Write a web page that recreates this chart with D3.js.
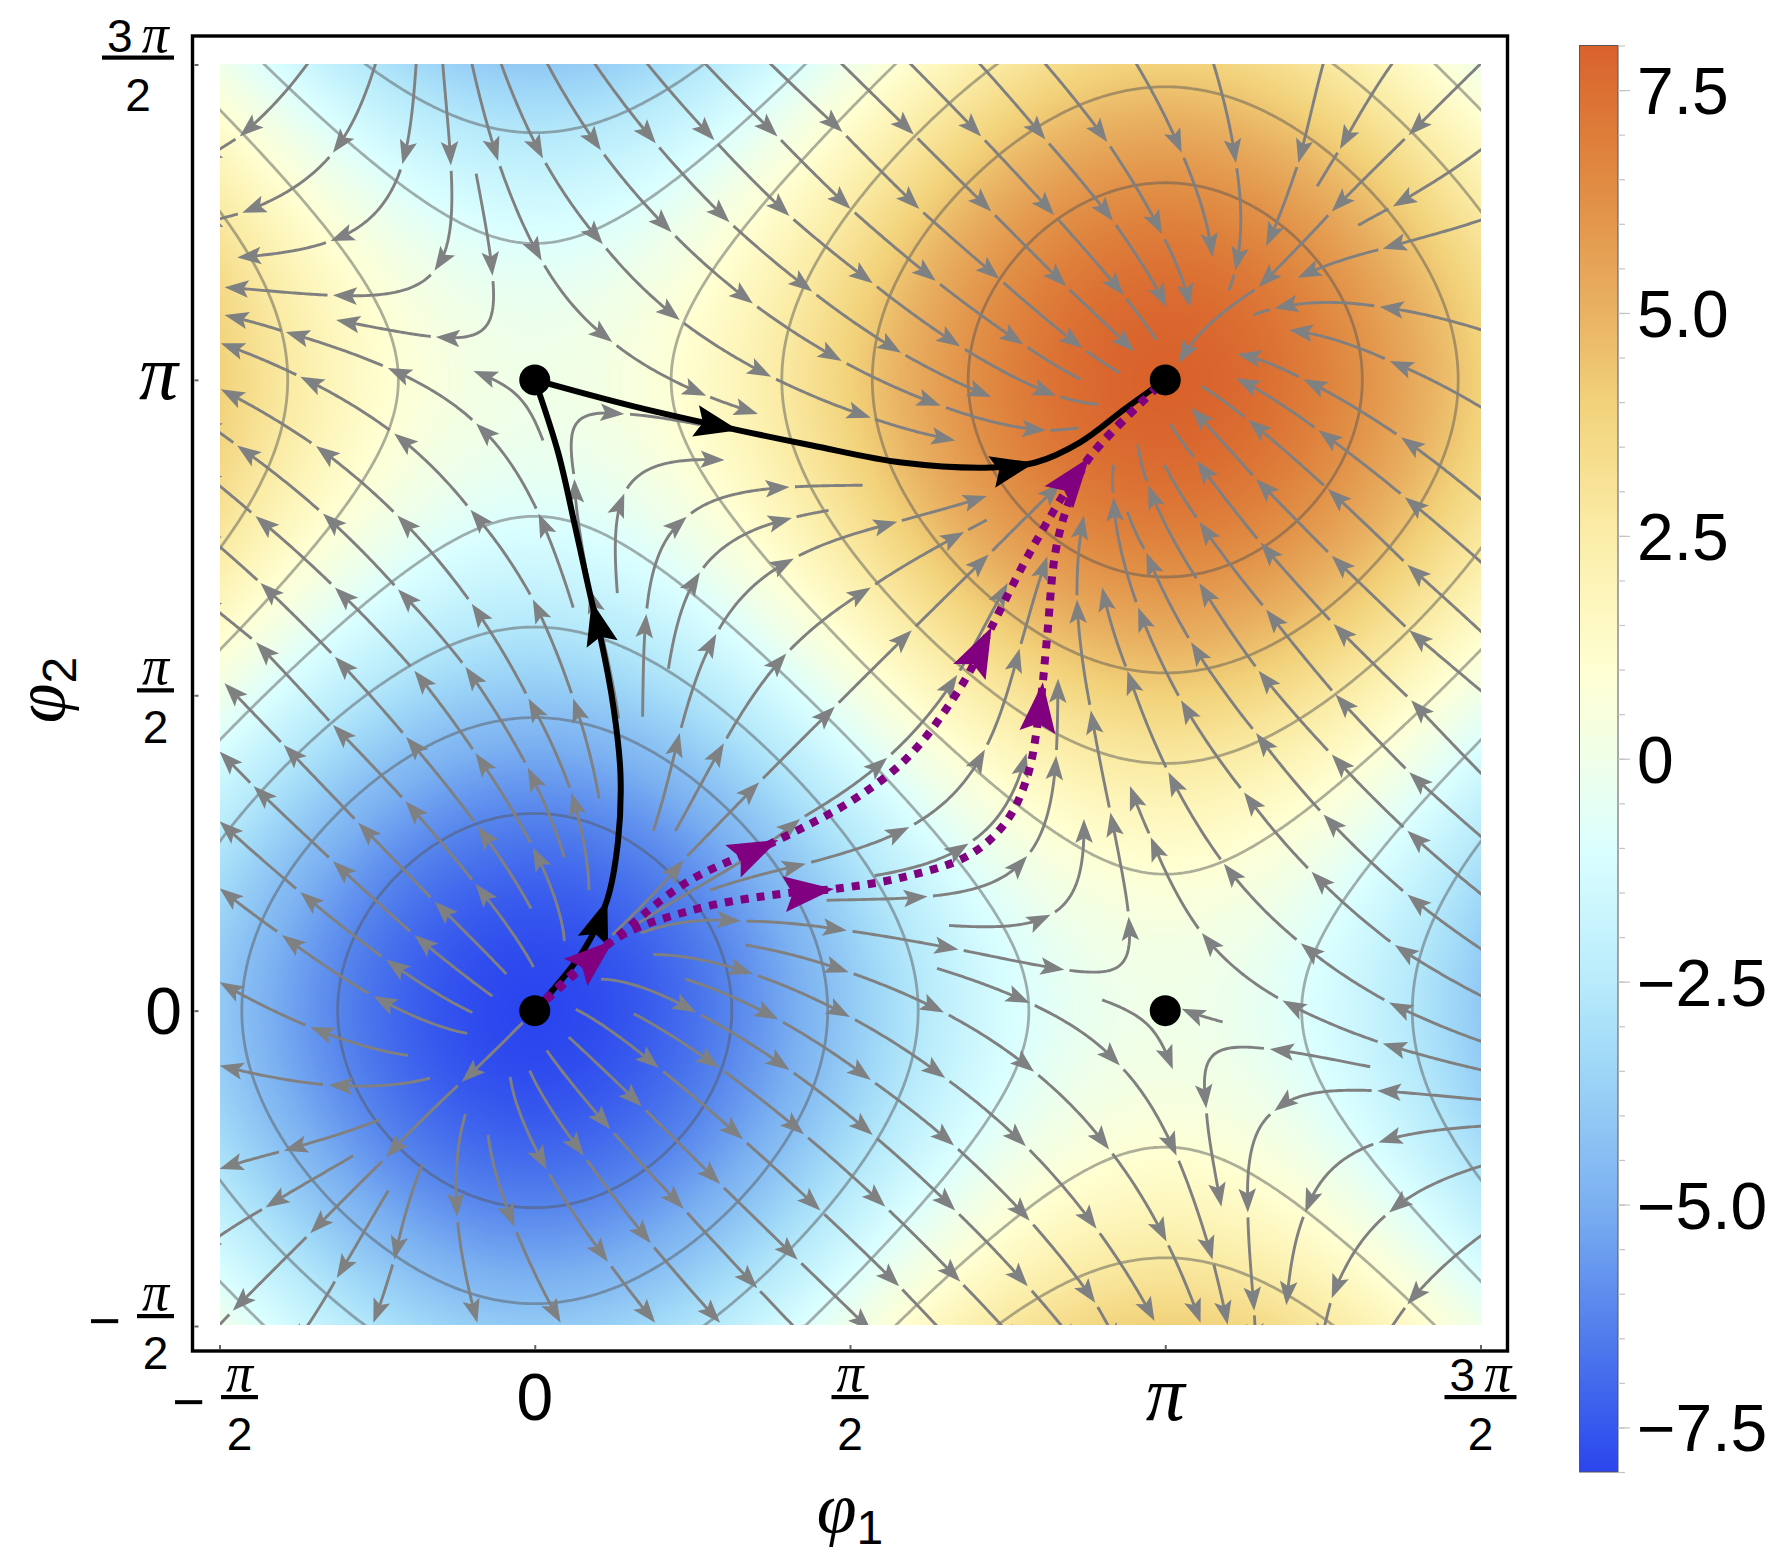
<!DOCTYPE html>
<html><head><meta charset="utf-8"><script src="https://cdn.jsdelivr.net/npm/d3@7"></script>
<style>html,body{margin:0;padding:0;background:#fff}svg{display:block}text{font-family:"Liberation Sans",Arial,sans-serif;fill:#000}.pi{font-family:"Liberation Serif",serif;font-style:italic}</style>
</head><body><svg id="c" width="1784" height="1558"></svg>
<script>
// All phase values are in thousandths of pi.
const phiTicks=[-500,0,500,1000,1500];
const colorTicks=[7.5,5,2.5,0,-2.5,-5,-7.5];
const colorMinor=d3.range(-8,8.01,0.5);
const colorStops=[-8,-6.5,-5,-3.5,-2.5,-1,0,1,2.5,4,5,6.5,8];
const colorValues=["#2A45EE","#4F7CEC","#7BB0F1","#9DD6F7","#B8EBFB","#DBFFFF","#F0FFE8","#FFFFD2","#FBEDA8","#F2D27A","#E9B263","#E08A42","#D9622B"];
const contourLevels=[-6.222,-4.444,-2.667,-0.889,0.889,2.667,4.444,6.222];
const fieldAmplitude=4, flowCoupling=0.5;
const fixedPoints=[[0,0],[0,1000],[1000,0],[1000,1000]];

const streamsUpperLeft=[
[[-359,1503],[-468,1386],[-534,1346]],
[[-252,1503],[-320,1360],[-464,1265],[-534,1247]],
[[-188,1503],[-210,1342],[-324,1220],[-472,1194]],
[[-146,1503],[-133,1340],[-159,1173],[-320,1134],[-492,1147]],
[[-93,1327],[-67,1165],[-157,1068],[-315,1095]],
[[-100,1503],[-58,1347],[11,1189],[123,1060],[272,975],[354,946]],
[[-54,1503],[13,1351],[108,1215],[230,1095],[375,1005],[533,940],[667,904]],
[[19,1503],[105,1364],[217,1234],[346,1121],[487,1030],[644,959],[811,920],[862,924,0]],
[[94,1503],[192,1375],[309,1250],[440,1140],[581,1043],[724,973]],
[[177,1503],[285,1380],[404,1260],[536,1153],[675,1053],[827,975],[894,961,0]],
[[269,1503],[385,1386],[501,1271],[636,1157],[775,1056],[866,1001,0]],
[[372,1503],[488,1393],[610,1271],[737,1160],[869,1050],[928,1011,0]],
[[485,1503],[601,1389],[724,1267],[843,1148],[951,1045]],
[[61,639],[6,788],[-93,931],[-233,1019],[-395,1076],[-492,1103]],
[[13,904],[-97,1014]],
[[131,662],[142,820],[301,873]],
[[133,463],[87,668],[63,843],[142,946],[262,929,0]]];

const streamsUpperRight=[
[[594,1503],[708,1386],[824,1261],[934,1134],[986,1063,0]],
[[704,1503],[810,1381],[917,1252],[1002,1115]],
[[808,1503],[908,1377],[995,1231],[1039,1115]],
[[953,1503],[1026,1360],[1075,1195]],
[[1076,1503],[1112,1344],[1111,1173],[1101,1142,0]],
[[1251,1503],[1211,1344],[1160,1212]],
[[1361,1503],[1277,1366],[1241,1307,0]],
[[1502,1503],[1386,1388],[1264,1267],[1148,1147],[1021,1026]],
[[1502,1366],[1361,1275],[1306,1245,0]],
[[1502,1254],[1345,1208],[1210,1162]],
[[1502,1079],[1340,1116],[1173,1113],[1140,1103,0]],
[[1502,956],[1356,1030],[1196,1079]],
[[1502,810],[1374,909],[1219,1001],[1114,1041]],
[[1502,710],[1380,814],[1243,920],[1112,1003]],
[[1502,600],[1384,707],[1258,827],[1131,937],[1058,990,0]]];

const streamsLowerRight=[
[[1502,506],[1387,603],[1264,721],[1144,843],[1041,956]],
[[1502,375],[1390,492],[1267,613],[1151,742],[1050,872],[1008,930,0]],
[[1502,275],[1387,378],[1270,501],[1160,636],[1054,775],[999,865,0]],
[[1502,184],[1384,285],[1264,406],[1148,539],[1054,678],[973,833],[957,898,0]],
[[1502,97],[1384,184],[1251,311],[1144,440],[1041,584],[970,726],[940,791,0]],
[[1502,23],[1364,104],[1232,220],[1125,346],[1025,492],[957,639],[918,814],[918,865,0]],
[[1502,-49],[1355,13],[1215,107],[1093,233],[1005,378],[940,539],[900,671]],
[[1502,-94],[1345,-52],[1186,16],[1058,123],[977,275],[944,356]],
[[1325,-89],[1166,-61],[1065,-155],[1089,-311]],
[[1502,-141],[1336,-127],[1173,-159],[1131,-320],[1141,-476],[1144,-534]],
[[1502,-183],[1338,-209],[1222,-320],[1192,-467]],
[[1502,-246],[1355,-320],[1264,-456],[1245,-534]],
[[1502,-356],[1384,-466],[1335,-540]],
[[900,17],[1012,-93]],
[[1091,-18],[1026,3]],
[[638,67],[785,12],[928,-87],[1018,-230],[1075,-395],[1099,-498]]];

const streamsCentre=[
[[168,123],[327,142],[495,127],[672,97],[840,65],[942,149],[913,314],[882,476],[860,652],[871,785]],
[[463,175],[623,181],[781,245],[827,404],[830,526]],
[[657,135],[818,152],[871,304]],
[[278,191],[430,233],[594,291],[714,414],[769,574],[813,720]],
[[539,214],[688,265],[780,408]],
[[165,139],[421,304],[559,401],[670,532],[750,678]],
[[188,285],[230,440],[288,597],[411,717],[575,775],[717,816]],
[[223,285],[300,424],[399,566],[533,671],[681,759],[717,778,0]],
[[123,120],[236,239],[356,362],[476,482],[598,603],[720,723],[834,836]],
[[171,466],[177,629],[241,783],[404,830],[520,833,0]],
[[212,542],[262,695],[408,781],[466,793,0]]];

const streamsLowerLeft=[
[[334,104],[498,61],[649,-3],[792,-97],[911,-220],[1002,-366],[1056,-495]],
[[188,89],[346,58],[500,-10],[651,-107],[779,-215],[891,-346],[983,-492]],
[[105,50],[256,-3],[404,-94],[536,-197],[667,-317],[782,-437],[863,-534]],
[[239,50],[386,-14],[533,-110],[665,-214],[785,-333],[889,-463],[928,-534]],
[[65,2],[197,-91],[330,-204],[453,-317],[578,-437],[675,-540]],
[[157,-5],[293,-91],[427,-196],[556,-311],[675,-430],[772,-534]],
[[54,-42],[170,-152],[294,-275],[417,-395],[534,-508]],
[[19,-63],[120,-188],[236,-314],[353,-440],[443,-534]],
[[-8,-95],[78,-230],[184,-369],[294,-495]],
[[-39,-105],[19,-252],[116,-398],[191,-495]],
[[-74,-197],[-32,-343],[41,-495]],
[[-110,-164],[-123,-327],[-91,-495]],
[[-178,-243],[-223,-395],[-256,-495]],
[[-232,-285],[-314,-424],[-385,-534]],
[[-19,-19],[-116,-113],[-236,-233],[-356,-353],[-479,-476],[-534,-534]],
[[-288,-230],[-427,-312],[-534,-382]],
[[-246,-173],[-398,-222],[-500,-251]],
[[-166,-107],[-327,-118],[-500,-87]],
[[-201,-71],[-356,-26],[-500,45]],
[[-107,-36],[-256,23],[-401,120],[-500,194]],
[[-99,-3],[-236,81],[-372,188],[-500,300]],
[[-67,23],[-191,120],[-320,237],[-446,356],[-500,411]],
[[-45,58],[-159,173],[-280,298],[-398,421],[-492,519]],
[[-2,69],[-94,201],[-205,332],[-320,453],[-442,584],[-534,658]],
[[-6,162],[-91,293],[-204,434],[-317,561],[-435,678],[-534,765]],
[[47,110],[-3,259],[-94,408],[-191,539],[-317,671],[-443,784],[-534,859]],
[[86,191],[58,346],[-10,495],[-100,645],[-218,785],[-347,895],[-498,985]],
[[47,243],[-11,385],[-110,545],[-217,668],[-336,788],[-472,896],[-534,940]],
[[102,336],[61,495],[-3,652],[-102,794],[-223,915],[-372,1005],[-498,1058]]];

const blackPathA=[[0,1000],[157,958],[324,920],[440,896],[582,869],[724,861],[794,869],[865,901],[936,954],[1000,1000]];
const blackPathAHeads=[[324,920],[794,869]];
const blackPathB=[[0,0],[79,98],[115,176],[132,268],[136,374],[125,480],[104,593],[90,650],[65,763],[37,885],[0,1000]];
const blackPathBHeads=[[115,176],[90,650]];
const purplePathA=[[0,0],[125,112],[242,204],[387,271],[511,338],[596,406],[681,522],[724,607],[794,742],[879,876],[1000,1000]];
const purplePathAHeads=[[125,112],[387,271],[724,607],[879,876]];
const purplePathB=[[0,0],[125,112],[256,161],[398,186],[476,193],[582,211],[688,246],[745,296],[780,367],[801,480],[812,586],[826,728],[847,806],[879,876],[1000,1000]];
const purplePathBHeads=[[476,193],[806,520]];

const svg=d3.select("#c");
const x=d3.scaleLinear().domain([-500,1500]).range([219.5,1480.5]);
const y=d3.scaleLinear().domain([-500,1500]).range([1326,64.5]);
const color=d3.scaleLinear().domain(colorStops).range(colorValues).interpolate(d3.interpolateRgb).clamp(true);
const barY=d3.scaleLinear().domain([-8,8]).range([1472,45.5]);
const rad=v=>v*Math.PI/1000;
const field=(a,b)=>-fieldAmplitude*(Math.cos(rad(a))+Math.cos(rad(b)));
function flow(a,b){
  const s1=Math.sin(rad(a)),s2=Math.sin(rad(b));
  let u=s1-flowCoupling*s2,v=s2-flowCoupling*s1;
  const n=Math.hypot(u,v)||1e-6;
  return [u/n,v/n];
}

// heat map
const hx0=Math.round(x(-500)),hx1=Math.round(x(1500)),hy0=Math.round(y(1500))-1,hy1=Math.round(y(-500))-1;
const cv=document.createElement("canvas");cv.width=hx1-hx0;cv.height=hy1-hy0;
const ctx=cv.getContext("2d");const im=ctx.createImageData(cv.width,cv.height);
for(let j=0;j<cv.height;j++)for(let i=0;i<cv.width;i++){
  const c=d3.rgb(color(field(x.invert(hx0+i+.5),y.invert(hy0+j+.5))));
  const k=(j*cv.width+i)*4;im.data[k]=c.r;im.data[k+1]=c.g;im.data[k+2]=c.b;im.data[k+3]=255;
}
ctx.putImageData(im,0,0);
svg.append("image").attr("x",hx0).attr("y",hy0).attr("width",cv.width).attr("height",cv.height).attr("href",cv.toDataURL());
svg.append("clipPath").attr("id","plot").append("rect").attr("x",hx0).attr("y",hy0).attr("width",cv.width).attr("height",cv.height);
const plot=svg.append("g").attr("clip-path","url(#plot)");

// contours
const nG=400,grid=new Float64Array(nG*nG);
const gA=d3.scaleLinear().domain([0,nG-1]).range([-510,1510]);
const gB=d3.scaleLinear().domain([0,nG-1]).range([1510,-510]);
for(let j=0;j<nG;j++)for(let i=0;i<nG;i++)grid[j*nG+i]=field(gA(i),gB(j));
const proj=d3.geoTransform({point(px,py){this.stream.point(x(gA(px-.5)),y(gB(py-.5)));}});
plot.append("g").selectAll("path").data(d3.contours().size([nG,nG]).thresholds(contourLevels)(grid)).join("path")
  .attr("d",d3.geoPath(proj)).attr("fill","none").attr("stroke","#555").attr("stroke-opacity",.48).attr("stroke-width",2.8);

// streamlines: pieces follow the flow between points
function march(p,q,sign){
  const step=2,d0=Math.hypot(p[0]-q[0],p[1]-q[1]);
  const pts=[[p[0],p[1]]];let best=d0,bi=0,c=[p[0],p[1]];
  const nMax=Math.ceil(d0*2.5/step);
  for(let i=1;i<=nMax;i++){
    const f=flow(c[0],c[1]);c=[c[0]+sign*step*f[0],c[1]+sign*step*f[1]];pts.push(c);
    const d=Math.hypot(c[0]-q[0],c[1]-q[1]);
    if(d<best){best=d;bi=i;} else if(d>best+12)break;
  }
  return pts.slice(0,Math.max(bi,1)+1);
}
function sample(pts,t){
  const f=t*(pts.length-1),i=Math.min(Math.floor(f),pts.length-2),w=f-i;
  return [pts[i][0]*(1-w)+pts[i+1][0]*w,pts[i][1]*(1-w)+pts[i+1][1]*w];
}
function piece(p,q){
  const fw=march(p,q,1),bw=march(q,p,-1),M=40,out=[];
  for(let i=0;i<=M;i++){
    const t=i/M,A=sample(fw,t),B=sample(bw,1-t);
    out.push([A[0]*(1-t)+B[0]*t,A[1]*(1-t)+B[1]*t]);
  }
  return out;
}
const line=d3.line().x(d=>x(d[0])).y(d=>y(d[1]));
const gStream=plot.append("g");
function head(g,tipX,tipY,ang,len,hw,notch,fill){
  const c=Math.cos(ang),s=Math.sin(ang);
  const P=(u,v)=>[tipX+u*c-v*s,tipY+u*s+v*c];
  g.append("path").attr("d","M"+[P(0,0),P(-len,hw),P(-len+notch,0),P(-len,-hw)].map(d=>d.join(",")).join("L")+"Z").attr("fill",fill);
}
[...streamsUpperLeft,...streamsUpperRight,...streamsLowerRight,...streamsCentre,...streamsLowerLeft].forEach(chain=>{
  for(let k=1;k<chain.length;k++){
    const p=chain[k-1],q=chain[k],hasHead=q.length<3;
    let pts=piece(p,q);
    const tip=[x(q[0]),y(q[1])];
    const last=pts[pts.length-5];
    const ang=Math.atan2(tip[1]-y(last[1]),tip[0]-x(last[0]));
    if(k>1){const s=[x(p[0]),y(p[1])];pts=pts.filter(d=>Math.hypot(x(d[0])-s[0],y(d[1])-s[1])>4);}
    if(hasHead)pts=pts.filter(d=>Math.hypot(x(d[0])-tip[0],y(d[1])-tip[1])>14);
    if(pts.length>1)gStream.append("path").attr("d",line(pts)).attr("fill","none").attr("stroke","#808080").attr("stroke-width",2.9);
    if(hasHead)head(gStream,tip[0],tip[1],ang,24,8.8,5,"#7f8082");
  }
});

// highlighted paths
const smooth=d3.line().x(d=>x(d[0])).y(d=>y(d[1])).curve(d3.curveCatmullRom.alpha(.5));
function pathWithHeads(data,heads,stroke,width,dash,hl,hw){
  const p=svg.append("path").attr("d",smooth(data)).attr("fill","none").attr("stroke",stroke).attr("stroke-width",width);
  if(dash)p.attr("stroke-dasharray",dash);
  const node=p.node(),L=node.getTotalLength();
  heads.forEach(h=>{
    const tx=x(h[0]),ty=y(h[1]);let bs=0,bd=1e9;
    for(let s=0;s<=L;s+=2){const q=node.getPointAtLength(s),d=Math.hypot(q.x-tx,q.y-ty);if(d<bd){bd=d;bs=s;}}
    const q0=node.getPointAtLength(Math.max(bs-18,0)),q1=node.getPointAtLength(Math.min(bs+6,L));
    const t=node.getPointAtLength(bs);
    head(svg,t.x,t.y,Math.atan2(q1.y-q0.y,q1.x-q0.x),hl,hw,hl*.17,stroke);
  });
}
pathWithHeads(blackPathA,blackPathAHeads,"#000",6,null,44,16);
pathWithHeads(blackPathB,blackPathBHeads,"#000",6,null,44,16);
pathWithHeads(purplePathB,purplePathBHeads,"#800080",8,"8,8",50,18);
pathWithHeads(purplePathA,purplePathAHeads,"#800080",8,"8,8",50,18);

svg.append("g").selectAll("circle").data(fixedPoints).join("circle")
  .attr("cx",d=>x(d[0])).attr("cy",d=>y(d[1])).attr("r",15.5).attr("fill","#000");

// frame and ticks
svg.append("rect").attr("x",192.5).attr("y",36).attr("width",1315).attr("height",1315).attr("fill","none").attr("stroke","#000").attr("stroke-width",3.4);
const ax=d3.axisBottom(x).tickValues(phiTicks).tickSize(-4).tickFormat("");
const ay=d3.axisLeft(y).tickValues(phiTicks).tickSize(-4).tickFormat("");
[svg.append("g").attr("transform","translate(0,1349)").call(ax),svg.append("g").attr("transform","translate(194.5,0)").call(ay)].forEach(g=>{
  g.select(".domain").remove();g.selectAll("line").attr("stroke","#666").attr("stroke-width",2);
});

// tick labels
function frac(num,cx,lineY,neg,w){
  svg.append("rect").attr("x",cx-w/2).attr("y",lineY-2).attr("width",w).attr("height",4.2).attr("fill","#000");
  const t=svg.append("text").attr("x",cx).attr("y",lineY-6).attr("text-anchor","middle");
  if(num){t.append("tspan").attr("font-size",46).text(num+"\u2009");}
  t.append("tspan").attr("class","pi").attr("font-size",54).text("\u03c0");
  svg.append("text").attr("x",cx).attr("y",lineY+53).attr("text-anchor","middle").attr("font-size",46).text("2");
  if(neg)svg.append("text").attr("x",cx-w/2-16).attr("y",lineY+24).attr("text-anchor","end").attr("font-size",56).text("\u2212");
}
frac("",x(-500)+20,1397,true,37);
svg.append("text").attr("x",x(0)).attr("y",1420).attr("text-anchor","middle").attr("font-size",66).text("0");
frac("",x(500),1397,false,37);
svg.append("text").attr("class","pi").attr("x",x(1000)).attr("y",1420).attr("text-anchor","middle").attr("font-size",78).text("\u03c0");
frac("3",x(1500),1397,false,72);
frac("",155.5,y(-500)-10,true,37);
svg.append("text").attr("x",182).attr("y",y(0)+23).attr("text-anchor","end").attr("font-size",66).text("0");
frac("",155.5,y(500)-5,false,37);
svg.append("text").attr("class","pi").attr("x",178).attr("y",y(1000)+19).attr("text-anchor","end").attr("font-size",78).text("\u03c0");
frac("3",138,y(1500)-7,false,72);

// axis titles
const t1=svg.append("text").attr("x",850).attr("y",1532).attr("text-anchor","middle");
t1.append("tspan").attr("class","pi").attr("font-size",72).text("\u03c6");
t1.append("tspan").attr("font-size",48).attr("dy",12).text("1");
const t2=svg.append("text").attr("transform","translate(64,690) rotate(-90)").attr("text-anchor","middle");
t2.append("tspan").attr("class","pi").attr("font-size",72).text("\u03c6");
t2.append("tspan").attr("font-size",48).attr("dy",12).text("2");

// colour bar
const defs=svg.append("defs").append("linearGradient").attr("id","bar").attr("x1",0).attr("x2",0).attr("y1",1).attr("y2",0);
colorStops.forEach((s,i)=>defs.append("stop").attr("offset",(s+8)/16).attr("stop-color",colorValues[i]));
svg.append("rect").attr("x",1579.5).attr("y",barY(8)).attr("width",38.5).attr("height",barY(-8)-barY(8)).attr("fill","url(#bar)").attr("stroke","#555").attr("stroke-width",1);
const minorAxis=d3.axisRight(barY).tickValues(colorMinor).tickSize(7).tickFormat("");
const majorAxis=d3.axisRight(barY).tickValues(colorTicks).tickSize(12).tickFormat("");
[svg.append("g").attr("transform","translate(1618,0)").call(minorAxis),svg.append("g").attr("transform","translate(1618,0)").call(majorAxis)].forEach(g=>{
  g.select(".domain").remove();g.selectAll("line").attr("stroke","#c4c4c4").attr("stroke-width",1.2);
});
svg.append("g").selectAll("text").data(colorTicks).join("text")
  .attr("x",1637).attr("y",d=>barY(d)+24).attr("font-size",66)
  .text(d=>(d<0?"\u2212":"")+(d===0?"0":Math.abs(d).toFixed(1)));
</script></body></html>
